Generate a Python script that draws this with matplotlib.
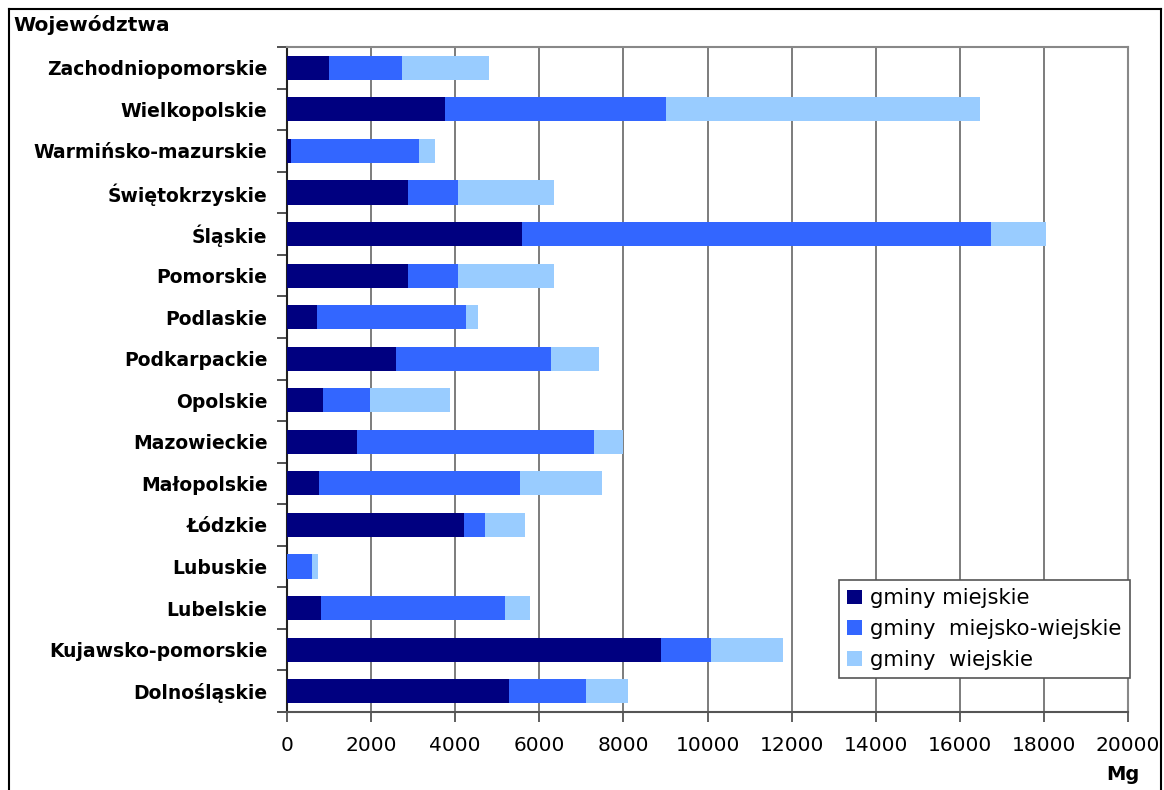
import matplotlib
matplotlib.use("Agg")
import matplotlib.pyplot as plt
from matplotlib.lines import Line2D
import numpy as np

categories = ["Dolnośląskie", "Kujawsko-pomorskie", "Lubelskie", "Lubuskie", "Łódzkie",
              "Małopolskie", "Mazowieckie", "Opolskie", "Podkarpackie", "Podlaskie",
              "Pomorskie", "Śląskie", "Świętokrzyskie", "Warmińsko-mazurskie",
              "Wielkopolskie", "Zachodniopomorskie"]
miejskie = [5270, 8900, 810, 0, 4200, 760, 1660, 855, 2590, 710,
            2870, 5580, 2870, 100, 3750, 1000]
miejsko_wiejskie = [1830, 1190, 4370, 590, 500, 4770, 5650, 1115, 3700, 3540,
                    1190, 11160, 1190, 3030, 5270, 1730]
wiejskie = [1000, 1710, 590, 145, 950, 1970, 690, 1900, 1140, 290,
            2300, 1300, 2300, 400, 7450, 2065]
series_labels = ["gminy miejskie", "gminy  miejsko-wiejskie", "gminy  wiejskie"]
colors = ["#000080", "#3366FF", "#99CCFF"]
xticks = [0, 2000, 4000, 6000, 8000, 10000, 12000, 14000, 16000, 18000, 20000]

W, H = 1164, 790
fig = plt.figure(figsize=(W / 100, H / 100), dpi=100)
ax = fig.add_axes([287 / W, 1 - 712 / H, (1128 - 287) / W, (712 - 47) / H])

y = np.arange(len(categories))
a = np.array(miejskie)
b = np.array(miejsko_wiejskie)
c = np.array(wiejskie)
h = 0.58
bars = []
bars.append(ax.barh(y, a, height=h, color=colors[0], zorder=3))
bars.append(ax.barh(y, b, left=a, height=h, color=colors[1], zorder=3))
bars.append(ax.barh(y, c, left=a + b, height=h, color=colors[2], zorder=3))

ax.set_xlim(0, 20000)
ax.set_ylim(-0.5, len(categories) - 0.5)
ax.set_xticks(xticks)
ax.set_xticklabels([str(v) for v in xticks], fontsize=14.5)
ax.set_yticks(y)
ax.set_yticklabels(categories, fontsize=13.5, fontweight="bold")
ax.tick_params(axis="y", which="major", length=0, pad=14)
ax.set_yticks(np.arange(-0.5, len(categories), 1.0), minor=True)
ax.tick_params(axis="y", which="minor", length=7, width=1.2, color="#333333", direction="out")
ax.tick_params(axis="x", which="major", length=7, width=1.2, color="#444444", direction="out", pad=10)

ax.grid(axis="x", color="#666666", linewidth=1.2, zorder=0)
ax.set_axisbelow(True)
for s in ["top", "right"]:
    ax.spines[s].set_color("#888888")
    ax.spines[s].set_linewidth(1.5)
ax.spines["left"].set_color("#222222")
ax.spines["left"].set_linewidth(1.5)
ax.spines["bottom"].set_color("#555555")
ax.spines["bottom"].set_linewidth(1.5)

leg = ax.legend([b_[0] for b_ in bars], series_labels, loc="lower right",
                bbox_to_anchor=(1130 / W, 1 - 678 / H), bbox_transform=fig.transFigure,
                fontsize=15.2, frameon=True, fancybox=False, framealpha=1,
                edgecolor="#555555", handlelength=0.7, handleheight=0.7,
                handletextpad=0.4, borderpad=0.4, labelspacing=0.5,
                borderaxespad=0)
leg.get_frame().set_linewidth(1.2)

fig.text(13 / W, 1 - 25 / H, "Województwa", fontsize=14.5, fontweight="bold",
         ha="left", va="center")
fig.text(1140 / W, 1 - 775 / H, "Mg", fontsize=14, fontweight="bold",
         ha="right", va="center")

# outer border of the chart area
for xs, ys in [([9, 9], [9, 795]), ([9, 1161], [9, 9]), ([1161, 1161], [9, 795])]:
    fig.add_artist(Line2D([v / W for v in xs], [1 - v / H for v in ys],
                          color="black", linewidth=1.5, transform=fig.transFigure))

fig.savefig("out.png", dpi=100)
